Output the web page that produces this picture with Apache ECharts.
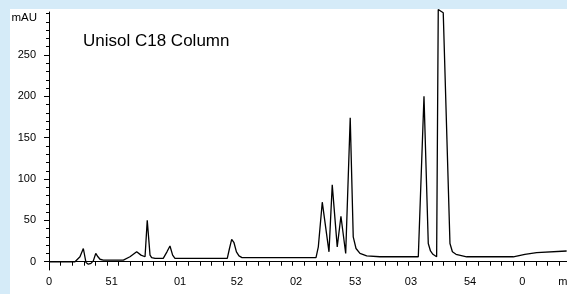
<!DOCTYPE html>
<html>
<head>
<meta charset="utf-8">
<script src="https://cdn.jsdelivr.net/npm/echarts@6/dist/echarts.min.js"></script>
<style>
    html, body { margin: 0; padding: 0; }
    .outer { position: relative; width: 567px; height: 294px; background: #d5ebf8; overflow: hidden; }
    .panel { position: absolute; left: 10px; top: 9px; width: 557px; height: 285px; background: #fff; }
    #chart { position: absolute; left: 0; top: 0; width: 567px; height: 294px; }
</style>
</head>
<body>
<div class="outer">
    <div class="panel"></div>
    <div id="chart"></div>
</div>
<script>
    // retention time (min) and detector signal (mAU)
    var timeMin = [0, 2.24, 2.67, 2.96, 3.19, 3.39, 3.62, 3.82, 4.03, 4.22, 4.40, 4.68,
        6.41, 6.98, 7.56, 7.93, 8.28, 8.47, 8.71, 8.85, 9.14, 9.85, 10.17, 10.43, 10.66, 10.86,
        15.37, 15.56, 15.75, 15.95, 16.16, 16.38, 16.64,
        23.02, 23.22, 23.56, 24.14, 24.42, 24.85, 25.17, 25.58, 25.97, 26.23, 26.47, 26.81, 27.39, 28.53,
        31.84, 32.33, 32.70, 32.89, 33.10, 33.42, 33.56, 33.99, 34.57, 34.78, 35.09, 36.01,
        40.03, 41.03, 42.04, 44.63];
    var signal = [0, 0, 6, 16, -1, -3, -2, 1, 10, 6, 3, 2,
        2, 6, 12, 8, 6, 50, 8, 5, 4, 4, 12, 19, 8, 4,
        4, 16, 27, 23, 12, 7, 5,
        5, 18, 72, 12, 93, 18, 55, 10, 174, 30, 16, 10, 7, 6,
        6, 200, 22, 13, 9, 6, 305, 301, 22, 12, 9, 6,
        6, 9, 11, 13];

    // x tick labels as they appear under the axis
    var xLabelVals = [0, 5.4, 11.3, 16.2, 21.3, 26.4, 31.2, 36.3, 40.8, 44.3];
    var xLabelText = ['0', '51', '01', '52', '02', '53', '03', '54', '0', 'm'];
    var yLabelVals = [0, 50, 100, 150, 200, 250];
    var yMinorVals = [];
    for (var v = 0; v <= 300; v += 10) yMinorVals.push(v);
    var xTickVals = [];
    for (var t = 0; t <= 44; t++) xTickVals.push(t);

    (function(){
        var myChart = echarts.init(document.getElementById('chart'));
        var font = 'Liberation Sans, Arial, sans-serif';
        var points = [];
        for (var i = 0; i < timeMin.length; i++) {
            points.push([timeMin[i], signal[i]]);
        }

        var option = {
            animation: false,
            title: {
                text: 'Unisol C18 Column',
                left: 83,
                top: 33,
                padding: 0,
                textStyle: { fontFamily: font, fontSize: 17, fontWeight: 'normal', color: '#000' }
            },
            grid: { left: 49, right: 0, top: 12, bottom: 24, outerBoundsMode: 'none', containLabel: false },
            xAxis: {
                type: 'value',
                min: 0,
                max: 44.66,
                splitLine: { show: false },
                axisLine: { lineStyle: { color: '#000', width: 1 } },
                axisTick: {
                    customValues: xTickVals,
                    length: 4,
                    lineStyle: { color: '#000' }
                },
                axisLabel: {
                    customValues: xLabelVals,
                    margin: 6,
                    color: '#000',
                    fontFamily: font,
                    fontSize: 11,
                    formatter: function (val) {
                        var k = xLabelVals.indexOf(val);
                        return k >= 0 ? xLabelText[k] : '';
                    }
                }
            },
            yAxis: [
                {
                    // minor ticks every 10 mAU
                    type: 'value',
                    min: -10,
                    max: 302,
                    splitLine: { show: false },
                    axisLine: { show: true, lineStyle: { color: '#000', width: 1 } },
                    axisTick: { customValues: yMinorVals, length: 3, lineStyle: { color: '#000' } },
                    axisLabel: { show: false }
                },
                {
                    // labelled ticks every 50 mAU
                    type: 'value',
                    position: 'left',
                    min: -10,
                    max: 302,
                    name: 'mAU',
                    nameLocation: 'end',
                    nameGap: -6,
                    nameTextStyle: {
                        color: '#000', fontFamily: font, fontSize: 11.5,
                        align: 'right', verticalAlign: 'middle', padding: [0, 12, 0, 0]
                    },
                    splitLine: { show: false },
                    axisLine: { show: false },
                    axisTick: { customValues: yLabelVals, length: 5, lineStyle: { color: '#000' } },
                    axisLabel: {
                        customValues: yLabelVals,
                        margin: 13,
                        color: '#000',
                        fontFamily: font,
                        fontSize: 11
                    }
                }
            ],
            series: [
                {
                    type: 'line',
                    yAxisIndex: 0,
                    data: points,
                    showSymbol: false,
                    clip: false,
                    lineStyle: { color: '#000', width: 1.3 }
                }
            ]
        };

        myChart.setOption(option);
    })();
</script>
</body>
</html>
